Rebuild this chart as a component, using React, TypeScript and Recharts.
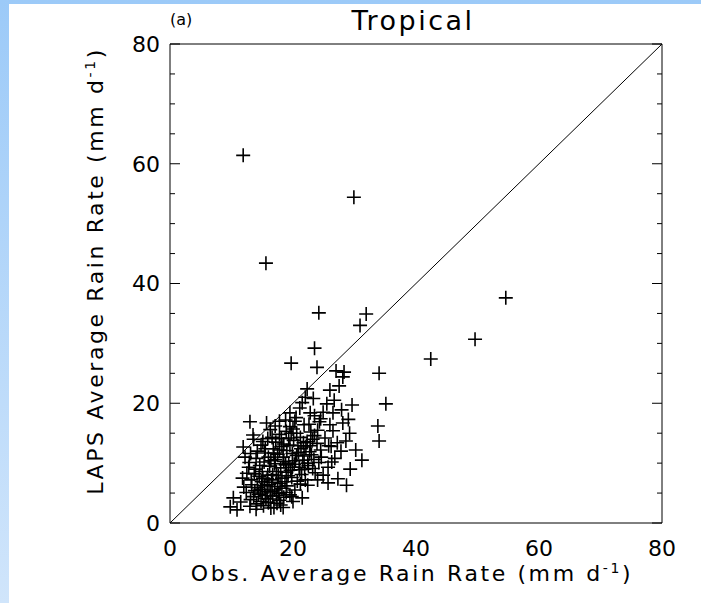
import React from 'react';
import { ScatterChart, Scatter, XAxis, YAxis, ReferenceLine } from 'recharts';

// ---- data (Obs., LAPS) in mm/day ----
const outlierPoints: [number, number][] = [
  [11.9, 61.4], [29.9, 54.4], [15.6, 43.4], [54.6, 37.6], [49.6, 30.7], [42.4, 27.4],
  [24.2, 35.1], [31.9, 34.9], [30.9, 33.0], [23.5, 29.2], [19.7, 26.7], [23.9, 26.0],
  [27.0, 25.4], [28.3, 25.2], [28.1, 24.4], [34.0, 25.0], [35.1, 19.9], [33.8, 16.2], [34.0, 13.7],
];
const lowPoints: [number, number][] = [
  [9.8, 2.7], [10.9, 2.2], [10.3, 4.2], [11.5, 3.5], [12.4, 5.1], [13.0, 2.8], [13.6, 4.4], [14.1, 3.2], [14.7, 5.6], [15.2, 2.9],
  [15.6, 4.1], [16.0, 3.4], [16.4, 5.2], [16.9, 2.6], [17.3, 4.6], [17.8, 3.8], [18.2, 5.8], [19.5, 4.7], [12.0, 6.0], [13.3, 6.4],
  [14.2, 5.9], [15.4, 6.2], [16.6, 6.8], [17.5, 6.1], [18.7, 6.9], [20.3, 5.5], [21.5, 4.2], [22.4, 6.3],
];
const midPoints: [number, number][] = [
  [11.8, 7.5], [12.5, 8.3], [13.2, 7.2], [13.9, 9.0], [14.5, 7.8], [15.0, 8.6], [15.3, 10.2], [15.8, 7.4], [16.2, 9.5], [16.7, 8.1],
  [17.1, 10.6], [17.6, 7.9], [18.0, 9.2], [18.4, 11.0], [18.9, 8.5], [19.3, 10.0], [19.8, 7.6], [20.2, 9.8], [20.6, 11.3], [21.1, 8.9],
  [21.6, 10.5], [22.0, 7.2], [22.5, 9.6], [23.0, 11.4], [23.6, 8.4], [24.2, 10.1], [24.9, 8.0], [25.7, 9.3], [25.7, 6.7], [26.8, 10.8],
  [27.3, 7.4], [14.0, 10.8], [12.9, 10.1], [16.9, 11.7], [19.0, 12.1], [21.3, 12.4], [22.8, 12.9], [24.5, 12.2], [26.2, 12.8], [27.8, 12.0],
];
const upperPoints: [number, number][] = [
  [12.2, 11.0], [11.9, 12.7], [13.5, 14.7], [13.6, 14.0], [14.8, 13.0], [15.5, 12.4], [15.9, 14.1], [16.3, 15.6], [17.2, 13.5], [17.8, 14.8],
  [18.5, 13.2], [18.9, 15.3], [19.5, 16.1], [20.1, 13.8], [20.6, 15.0], [21.2, 14.3], [21.8, 16.4], [22.3, 13.6], [22.9, 15.2], [23.5, 14.6],
  [24.3, 16.9], [25.2, 14.2], [26.0, 16.4], [26.5, 15.4], [27.2, 13.4], [28.1, 16.7], [28.6, 13.7], [29.2, 15.0], [13.0, 16.9], [15.7, 16.7],
  [30.2, 12.2], [31.2, 10.5], [29.3, 9.0], [28.7, 6.3],
];
const highPoints: [number, number][] = [
  [19.5, 18.4], [21.1, 19.2], [22.8, 18.4], [24.9, 18.5], [26.5, 18.4], [27.9, 18.9], [29.6, 19.7], [22.3, 22.4], [26.0, 22.2], [27.5, 22.9],
  [20.5, 17.6], [23.3, 20.8], [22.0, 21.0], [24.5, 17.4], [18.8, 17.2], [25.5, 19.9], [21.5, 20.1], [17.8, 17.0], [23.5, 17.9], [26.7, 20.5],
  [29.0, 17.3],
];
const corePoints: [number, number][] = [
  [14.4, 4.8], [15.0, 5.0], [15.8, 5.3], [16.3, 4.0], [17.0, 5.5], [17.7, 4.9], [18.5, 4.3], [19.0, 6.2], [14.9, 6.9], [15.9, 8.0],
  [16.5, 7.2], [17.3, 8.6], [18.2, 7.5], [18.8, 9.7], [19.6, 8.8], [20.4, 10.4], [21.0, 9.3], [21.8, 11.2], [22.4, 10.0], [23.2, 9.1],
  [16.0, 11.0], [16.8, 12.4], [17.5, 11.5], [18.2, 12.8], [19.9, 11.6], [20.8, 12.9], [21.7, 13.4], [22.7, 11.9], [23.9, 13.3], [24.6, 11.0],
  [14.6, 9.6], [13.7, 8.2], [15.4, 11.7], [19.3, 14.2], [20.0, 15.7], [12.8, 9.3], [18.0, 3.0], [16.4, 2.5], [14.0, 2.3], [20.0, 3.6],
];
const denseCorePoints: [number, number][] = [
  [13.1, 3.9], [14.8, 3.6], [15.5, 4.6], [16.7, 4.5], [17.4, 3.3], [18.9, 5.1], [13.8, 5.4], [15.1, 7.5], [16.1, 6.4], [17.9, 6.6],
  [19.2, 7.9], [20.7, 7.0], [21.4, 8.1], [17.0, 9.9], [18.5, 10.3], [19.9, 9.3], [21.9, 9.0], [23.4, 10.6], [16.4, 10.4], [17.8, 12.2],
  [19.5, 13.0], [20.9, 11.8], [22.1, 12.7], [23.2, 14.0], [15.1, 13.6], [16.6, 14.3], [18.1, 14.1], [19.7, 15.0], [14.2, 12.0], [13.1, 11.6],
  [17.1, 16.2], [20.3, 17.0], [22.6, 16.5], [24.0, 15.5], [25.8, 12.9], [26.3, 10.2], [24.0, 7.2], [21.2, 6.5], [19.8, 4.4], [18.4, 2.6],
];

const majorTicks = [0, 20, 40, 60, 80];
const minorTicks = [0, 5, 10, 15, 20, 25, 30, 35, 40, 45, 50, 55, 60, 65, 70, 75, 80];
const majorStep = 20;
const axisDomain: [number, number] = [0, 80];
const oneToOneLine = [{ x: 0, y: 0 }, { x: 80, y: 80 }];

const titleText = 'Tropical';
const panelText = '(a)';
const xTitle = 'Obs. Average Rain Rate (mm d';
const yTitle = 'LAPS Average Rain Rate (mm d';
const unitExp = '-1';

const allPoints = [
  ...outlierPoints, ...lowPoints, ...midPoints, ...upperPoints, ...highPoints, ...corePoints, ...denseCorePoints,
].map(([obs, laps]) => ({ obs, laps }));

const FONT = '"DejaVu Sans", "Liberation Sans", sans-serif';
const MINOR_LEN = 5;
const EXTRA_LEN = 5; // major ticks are MINOR_LEN + EXTRA_LEN long

const Cross = (props: any) => {
  const { cx, cy } = props;
  if (cx == null || cy == null) return <g />;
  return (
    <path
      d={`M${cx - 7},${cy}H${cx + 7}M${cx},${cy - 7}V${cy + 7}`}
      stroke="#000"
      strokeWidth={1.6}
      fill="none"
    />
  );
};

// extends the tick line inward for major ticks (label anchor sits at the inner end of the tick line)
const makeTickExtender = (dx: number, dy: number) => (props: any) => {
  const { x, y, payload } = props;
  if (payload == null || payload.value % majorStep !== 0) return <g />;
  return <line x1={x} y1={y} x2={x + dx} y2={y + dy} stroke="#000" strokeWidth={1} />;
};
const leftExt = makeTickExtender(EXTRA_LEN, 0);
const rightExt = makeTickExtender(-EXTRA_LEN, 0);
const topExt = makeTickExtender(0, EXTRA_LEN);
const bottomExt = makeTickExtender(0, -EXTRA_LEN);

export default function App() {
  const tickStyle = { fontSize: 22, fill: '#000', fontFamily: FONT };
  const line = { stroke: '#000', strokeWidth: 1 };
  return (
    <div
      style={{
        position: 'absolute', left: 0, top: 0, width: 701, height: 603, overflow: 'hidden',
        background: 'linear-gradient(to bottom, #9ccaf8, #d0e5fb)', fontFamily: FONT, color: '#000',
      }}
    >
      <div style={{ position: 'absolute', left: 9, top: 4, right: 0, bottom: 0, background: '#fff' }} />
      <div style={{ position: 'absolute', left: 0, top: 0 }}>
        <ScatterChart width={701} height={603} margin={{ top: 44, right: 39, bottom: 20, left: 90 }}>
          <XAxis xAxisId="b" dataKey="obs" type="number" domain={axisDomain} ticks={majorTicks} interval={0}
            allowDataOverflow orientation="bottom" height={60} tickLine={false} axisLine={line}
            tick={tickStyle} tickSize={6} tickMargin={11} />
          <XAxis xAxisId="bIn" type="number" domain={axisDomain} ticks={minorTicks} interval={0} allowDataOverflow
            orientation="bottom" mirror axisLine={false} tickLine={line} tickSize={MINOR_LEN} tickMargin={0} tick={bottomExt} />
          <XAxis xAxisId="tIn" type="number" domain={axisDomain} ticks={minorTicks} interval={0} allowDataOverflow
            orientation="top" mirror axisLine={line} tickLine={line} tickSize={MINOR_LEN} tickMargin={0} tick={topExt} />

          <YAxis yAxisId="l" dataKey="laps" type="number" domain={axisDomain} ticks={majorTicks} interval={0}
            allowDataOverflow orientation="left" width={80} tickLine={false} axisLine={line}
            tick={tickStyle} tickSize={6} tickMargin={4} />
          <YAxis yAxisId="lIn" type="number" domain={axisDomain} ticks={minorTicks} interval={0} allowDataOverflow
            orientation="left" mirror axisLine={false} tickLine={line} tickSize={MINOR_LEN} tickMargin={0} tick={leftExt} />
          <YAxis yAxisId="rIn" type="number" domain={axisDomain} ticks={minorTicks} interval={0} allowDataOverflow
            orientation="right" mirror axisLine={line} tickLine={line} tickSize={MINOR_LEN} tickMargin={0} tick={rightExt} />

          <ReferenceLine xAxisId="b" yAxisId="l" segment={oneToOneLine} stroke="#000" strokeWidth={1} ifOverflow="hidden" />
          <Scatter xAxisId="b" yAxisId="l" data={allPoints} shape={Cross} isAnimationActive={false} />
        </ScatterChart>
      </div>

      <div style={{ position: 'absolute', left: 263, width: 300, top: 7, textAlign: 'center', fontSize: 27, lineHeight: '27px', letterSpacing: 2.5 }}>
        {titleText}
      </div>
      <div style={{ position: 'absolute', left: 170, top: 12, fontSize: 16, lineHeight: '16px' }}>
        {panelText}
      </div>
      <div style={{ position: 'absolute', left: 162, width: 500, top: 563, textAlign: 'center', fontSize: 22, lineHeight: '22px', letterSpacing: 2.6 }}>
        {xTitle}
        <span style={{ position: 'relative', top: -8, fontSize: 14 }}>{unitExp}</span>)
      </div>
      <div style={{ position: 'absolute', left: 96 - 250, width: 500, top: 271 - 13, height: 26, textAlign: 'center', fontSize: 22, lineHeight: '26px', letterSpacing: 2.6, transform: 'rotate(-90deg)' }}>
        {yTitle}
        <span style={{ position: 'relative', top: -8, fontSize: 14 }}>{unitExp}</span>)
      </div>
    </div>
  );
}
